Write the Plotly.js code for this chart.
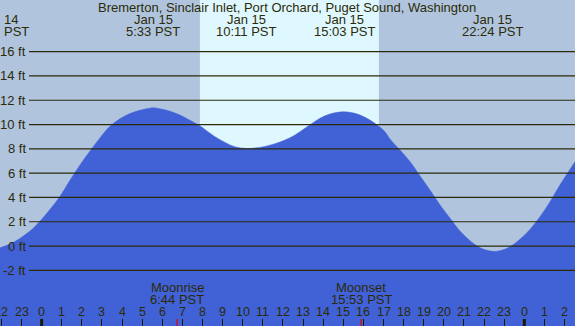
<!DOCTYPE html>
<html>
<head>
<meta charset="utf-8">
<script src="https://cdn.plot.ly/plotly-3.0.1.min.js"></script>
<style>html,body{margin:0;padding:0;background:#B0C4DE;}#chart{width:575px;height:326px;}</style>
</head>
<body>
<div id="chart"></div>
<script>
// Hours relative to Jan 15 00:00 PST
const hours = [-2.07, -1.58, -1.08, -0.58, -0.08, 0.41, 0.91, 1.41, 1.90, 2.40, 2.90, 3.40, 3.89, 4.39, 4.89, 5.39, 5.55, 5.88, 6.38, 6.88, 7.37, 7.87, 8.12, 8.62, 9.12, 9.61, 10.18, 10.61, 11.10, 11.60, 12.10, 12.60, 13.09, 13.59, 14.09, 14.58, 15.05, 15.58, 16.08, 16.57, 17.07, 17.32, 17.82, 18.32, 18.81, 19.31, 19.81, 20.31, 20.80, 21.30, 21.80, 22.40, 22.79, 23.29, 23.78, 24.28, 24.78, 25.28, 25.77, 26.52];
const heights = [-0.14, 0.16, 0.63, 1.23, 2.05, 3.00, 4.08, 5.42, 6.66, 7.80, 8.90, 9.85, 10.47, 10.90, 11.18, 11.35, 11.38, 11.30, 11.10, 10.78, 10.35, 9.90, 9.60, 9.00, 8.53, 8.17, 8.03, 8.07, 8.20, 8.42, 8.72, 9.14, 9.69, 10.26, 10.72, 10.97, 11.05, 10.92, 10.59, 10.10, 9.41, 8.81, 7.90, 6.94, 5.79, 4.61, 3.37, 2.28, 1.23, 0.44, -0.14, -0.43, -0.38, -0.05, 0.55, 1.37, 2.41, 3.65, 5.02, 6.94];

const title = "Bremerton, Sinclair Inlet, Port Orchard, Puget Sound, Washington";
const extremeHours = [5.55, 10.18, 15.05, 22.4];
const extremeDates = ["Jan 15", "Jan 15", "Jan 15", "Jan 15"];
const extremeTimes = ["5:33 PST", "10:11 PST", "15:03 PST", "22:24 PST"];
const levels = [-2, 0, 2, 4, 6, 8, 10, 12, 14, 16];
const levelLabels = ["-2 ft", "0 ft", "2 ft", "4 ft", "6 ft", "8 ft", "10 ft", "12 ft", "14 ft", "16 ft"];
const tickHours = [-2,-1,0,1,2,3,4,5,6,7,8,9,10,11,12,13,14,15,16,17,18,19,20,21,22,23,24,25,26];
const tickLabels = ["22","23","0","1","2","3","4","5","6","7","8","9","10","11","12","13","14","15","16","17","18","19","20","21","22","23","0","1","2"];
const midnights = [0, 24];
const sunrise = 7.87, sunset = 16.77;
const moonEvents = ["Moonrise", "Moonset"];
const moonHours = [6.733, 15.883];
const moonTimes = ["6:44 PST", "15:53 PST"];

const W = 575, H = 326;
const xr = [-2.07, 26.52];
const yr = [-6.58, 20.25];
const txt = '#2b2b08';
const fontFam = 'Liberation Sans, Arial, sans-serif';
const py = p => 1 - p / H;

const base = {
  x: hours, y: hours.map(() => yr[0] - 5),
  type: 'scatter', mode: 'lines', line: {width: 0, color: 'rgba(0,0,0,0)'},
  hoverinfo: 'skip', showlegend: false
};
const tide = {
  x: hours, y: heights,
  type: 'scatter', mode: 'lines', fill: 'tonexty',
  fillcolor: '#4161D6', line: {width: 0.5, color: '#4161D6', shape: 'spline', smoothing: 1},
  hoverinfo: 'skip', showlegend: false
};

const shapes = [];
shapes.push({type:'rect', xref:'x', yref:'paper', x0:sunrise, x1:sunset, y0:0, y1:1, fillcolor:'#DFF7FF', line:{width:0}, layer:'below'});
levels.forEach(l => shapes.push({type:'line', xref:'paper', yref:'y', x0:29/W, x1:1, y0:l, y1:l, line:{color:txt, width:1.2}, layer:'above'}));
midnights.forEach(m => shapes.push({type:'line', xref:'x', yref:'paper', x0:m, x1:m, y0:0, y1:7/H, line:{color:'#1a1a00', width:3}, layer:'above'}));
moonHours.forEach(m => shapes.push({type:'line', xref:'x', yref:'paper', x0:m, x1:m, y0:0, y1:7/H, line:{color:'#e00000', width:1.2}, layer:'above'}));

const ann = [];
const f = (s) => ({family: fontFam, size: s, color: txt});
const A = (o) => Object.assign({showarrow:false, xanchor:'center', yanchor:'middle', font:f(13)}, o);
ann.push(A({text:title, xref:'paper', yref:'paper', x:287/W, y:py(7.8)}));
ann.push(A({text:'14', xref:'paper', yref:'paper', x:2/W, y:py(19), xanchor:'left'}));
ann.push(A({text:'PST', xref:'paper', yref:'paper', x:2/W, y:py(31.5), xanchor:'left'}));
extremeHours.forEach((h,i) => {
  ann.push(A({text: extremeDates[i], xref:'x', yref:'paper', x:h, y:py(19)}));
  ann.push(A({text: extremeTimes[i], xref:'x', yref:'paper', x:h, y:py(31.5)}));
});
levels.forEach((l,i) => ann.push(A({text: levelLabels[i], xref:'paper', yref:'y', x:27.5/W, y:l, xanchor:'right'})));
moonHours.forEach((h,i) => {
  ann.push(A({text: moonEvents[i], xref:'x', yref:'paper', x:h, y:py(287.5)}));
  ann.push(A({text: moonTimes[i], xref:'x', yref:'paper', x:h, y:py(299)}));
});
tickHours.forEach((h,i) => ann.push(A({text: tickLabels[i], xref:'x', yref:'paper', x:h, y:py(311.7), font:f(12.5)})));

const layout = {
  width: W, height: H,
  margin: {l:0, r:0, t:0, b:0, pad:0},
  paper_bgcolor: '#B0C4DE', plot_bgcolor: '#B0C4DE',
  showlegend: false,
  xaxis: {range: xr, showgrid:false, zeroline:false, showline:false,
    tickmode:'array', tickvals: tickHours,
    ticks:'inside', ticklen:7, tickwidth:1, tickcolor:'#1a1a00',
    showticklabels:false, fixedrange:true},
  yaxis: {range: yr, visible:false, fixedrange:true},
  shapes: shapes, annotations: ann
};
Plotly.newPlot('chart', [base, tide], layout, {staticPlot:true, displayModeBar:false});
</script>
</body>
</html>
